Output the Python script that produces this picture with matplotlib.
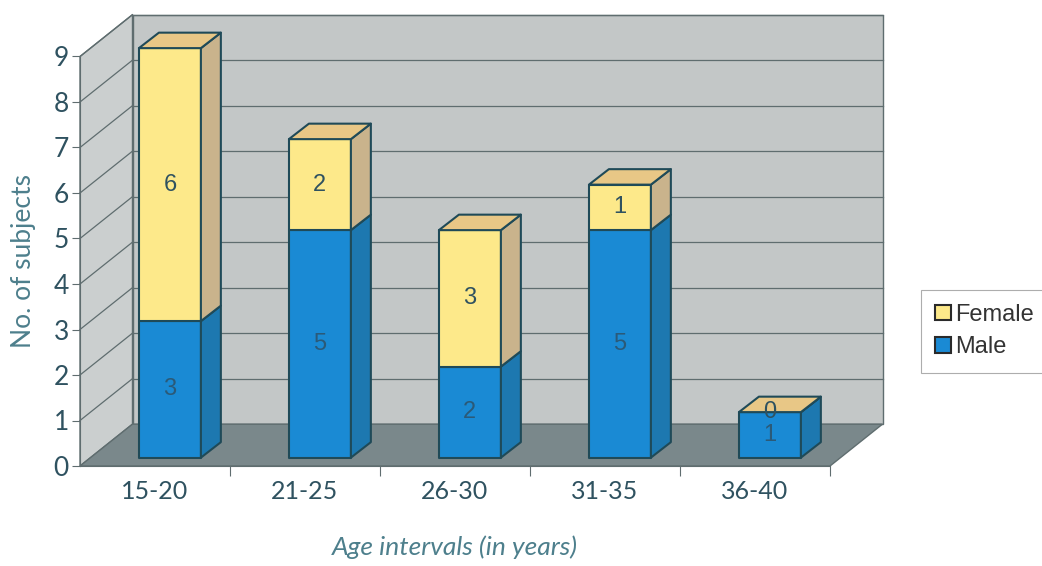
import matplotlib.pyplot as plt
from matplotlib.patches import Polygon, Patch

categories = ['15-20', '21-25', '26-30', '31-35', '36-40']
male = [3, 5, 2, 5, 1]
female = [6, 2, 3, 1, 0]
y_ticks = list(range(0, 10))

# colours
male_front = '#1a8ad4'
male_side = '#1d78b0'
female_front = '#fde98a'
female_side = '#c9b38c'
female_top = '#e8c786'
edge = '#1f4a58'
text_col = '#2f5260'
label_col = '#4d7f8c'
wall_col = '#c3c7c7'
side_wall_col = '#cbcfcf'
floor_col = '#7a888b'
grid_col = '#5f6d6f'

plt.rcParams['font.family'] = ['Lato', 'DejaVu Sans']

fig = plt.figure(figsize=(10.42, 5.66), dpi=100)
ax = fig.add_axes([80 / 1042, 100 / 566, 750 / 1042, 409.5 / 566])
ymax = 9
n = len(categories)
ax.set_xlim(0, n)
ax.set_ylim(0, ymax)
ax.patch.set_visible(False)

# depth of the "3d" box (data units)
DX, DY = 0.35, 0.92

# walls and floor
ax.add_patch(Polygon([(0, 0), (DX, DY), (DX, ymax + DY), (0, ymax)],
                     closed=True, fc=side_wall_col, ec=grid_col, lw=1, clip_on=False, zorder=0))
ax.add_patch(Polygon([(DX, DY), (n + DX, DY), (n + DX, ymax + DY), (DX, ymax + DY)],
                     closed=True, fc=wall_col, ec=grid_col, lw=1, clip_on=False, zorder=0))
ax.add_patch(Polygon([(0, 0), (n, 0), (n + DX, DY), (DX, DY)],
                     closed=True, fc=floor_col, ec=grid_col, lw=1, clip_on=False, zorder=1))

for v in y_ticks[1:]:
    ax.plot([DX, n + DX], [v + DY, v + DY], color=grid_col, lw=0.9, clip_on=False, zorder=0.5)
    ax.plot([0, DX], [v, v + DY], color=grid_col, lw=0.9, clip_on=False, zorder=0.5)

# bars
bw = 0.413
bdx, bdy = 0.133, 0.34
base = 0.2 * DY


def box(x0, y0, h, front, side, top):
    kw = dict(closed=True, ec=edge, lw=1.5, clip_on=False, zorder=3, joinstyle='round')
    ax.add_patch(Polygon([(x0, y0), (x0 + bw, y0), (x0 + bw, y0 + h), (x0, y0 + h)], fc=front, **kw))
    ax.add_patch(Polygon([(x0 + bw, y0), (x0 + bw + bdx, y0 + bdy),
                          (x0 + bw + bdx, y0 + h + bdy), (x0 + bw, y0 + h)], fc=side, **kw))
    if top is not None:
        ax.add_patch(Polygon([(x0, y0 + h), (x0 + bw, y0 + h),
                              (x0 + bw + bdx, y0 + h + bdy), (x0 + bdx, y0 + h + bdy)], fc=top, **kw))


for i in range(n):
    x0 = i + 0.393
    box(x0, base, male[i], male_front, male_side, None)
    box(x0, base + male[i], female[i], female_front, female_side, female_top)
    ax.text(x0 + bw / 2, base + male[i] / 2, str(male[i]), ha='center', va='center',
            fontsize=17, color='#2b5a78', family='Liberation Sans', zorder=5)
    ax.text(x0 + bw / 2, base + male[i] + female[i] / 2, str(female[i]), ha='center', va='center',
            fontsize=17, color=text_col, family='Liberation Sans', zorder=5)

# axes
for s in ['top', 'right']:
    ax.spines[s].set_visible(False)
for s in ['left', 'bottom']:
    ax.spines[s].set_color(grid_col)
    ax.spines[s].set_zorder(2)

ax.set_yticks(y_ticks)
ax.tick_params(axis='y', direction='out', length=6, pad=2, color=grid_col,
               labelsize=19, labelcolor=text_col)
ax.set_xticks(range(1, n + 1))
ax.set_xticklabels([])
ax.tick_params(axis='x', which='major', direction='out', length=7, color=grid_col)
ax.set_xticks([i + 0.5 for i in range(n)], minor=True)
ax.set_xticklabels(categories, minor=True)
ax.tick_params(axis='x', which='minor', length=0, pad=10, labelsize=18, labelcolor=text_col)

ax.set_ylabel('No. of subjects', fontsize=19, color=label_col)
ax.yaxis.set_label_coords(-0.058, 0.5)
ax.set_xlabel('Age intervals (in years)', fontsize=19, color=label_col, style='italic')
ax.xaxis.set_label_coords(0.5, -0.17)

handles = [Patch(fc=female_front, ec='#2a2a2a', lw=1.5, label='Female'),
           Patch(fc=male_front, ec='#2a2a2a', lw=1.5, label='Male')]
leg = fig.legend(handles=handles, loc='center left', bbox_to_anchor=(0.884, 0.415),
                 frameon=True, fancybox=False, edgecolor='#999999',
                 handlelength=0.65, handleheight=0.65, handletextpad=0.2,
                 borderpad=0.6, labelspacing=0.45, borderaxespad=0,
                 prop={'family': 'Liberation Sans', 'size': 17})
leg.get_frame().set_linewidth(0.8)
for t in leg.get_texts():
    t.set_color('#333333')

fig.savefig('out.png', dpi=100)
